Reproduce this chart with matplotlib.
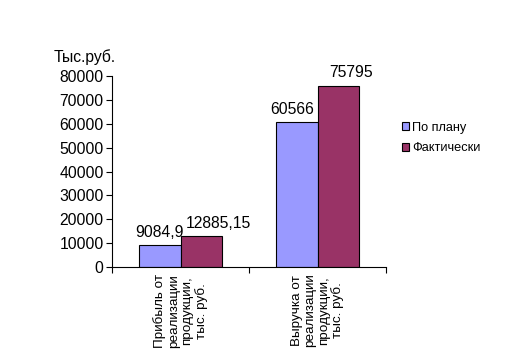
import numpy as np
import matplotlib
matplotlib.use("Agg")
import matplotlib.pyplot as plt
from matplotlib.patches import Patch

categories = ["Прибыль от\nреализации\nпродукции,\nтыс. руб.",
              "Выручка от\nреализации\nпродукции,\nтыс. руб."]
series_names = ["По плану", "Фактически"]
plan = [9084.9, 60566]
fact = [12885.15, 75795]
plan_labels = ["9084,9", "60566"]
fact_labels = ["12885,15", "75795"]
yticks = [0, 10000, 20000, 30000, 40000, 50000, 60000, 70000, 80000]

plt.rcParams['font.family'] = ['Liberation Sans', 'DejaVu Sans']
fs = 11.3

fig = plt.figure(figsize=(5.29, 3.57), dpi=100)
ax = fig.add_axes([112 / 529, 1 - 267 / 357, 274 / 529, 191 / 357])

x = np.arange(len(categories))
w = 0.305
c_plan = "#9999FF"
c_fact = "#993366"
b1 = ax.bar(x - w / 2, plan, w, color=c_plan, edgecolor="black", linewidth=0.8)
b2 = ax.bar(x + w / 2, fact, w, color=c_fact, edgecolor="black", linewidth=0.8)

# data labels; the "fact" ones sit a bit to the right in the original
for bars, labs, dx in ((b1, plan_labels, [0, -3]), (b2, fact_labels, [12, 9])):
    for r, t, d in zip(bars, labs, dx):
        ax.annotate(t, (r.get_x() + r.get_width() / 2, r.get_height()),
                    xytext=(d, 4), textcoords="offset points",
                    ha="center", va="bottom", fontsize=fs)

ax.set_xlim(-0.5, 1.5)
ax.set_ylim(0, 80000)
ax.set_yticks(yticks)
ax.set_yticklabels([str(v) for v in yticks], fontsize=fs)
ax.tick_params(axis="y", length=4, width=0.8, pad=2)

ax.set_xticks([-0.5, 0.5, 1.5])
ax.set_xticklabels([])
ax.tick_params(axis="x", length=4, width=0.8)
for xi, lab in zip(x, categories):
    ax.text(xi, -0.035, lab, transform=ax.get_xaxis_transform(),
            rotation=90, ha="center", va="top", multialignment="center",
            fontsize=9.7, linespacing=1.15)

for s in ("top", "right"):
    ax.spines[s].set_visible(False)
ax.spines["left"].set_linewidth(0.8)
ax.spines["bottom"].set_linewidth(0.8)

fig.text(54 / 529, 1 - 57 / 357, "Тыс.руб.", fontsize=fs, va="center", ha="left")

handles = [Patch(facecolor=c_plan, edgecolor="black", linewidth=0.8),
           Patch(facecolor=c_fact, edgecolor="black", linewidth=0.8)]
fig.legend(handles, series_names, loc="upper left",
           bbox_to_anchor=(390 / 529, 1 - 110 / 357), frameon=False,
           fontsize=9.2, handlelength=0.55, handleheight=0.55,
           handletextpad=0.3, labelspacing=0.7)

fig.savefig("out.png", dpi=100)
